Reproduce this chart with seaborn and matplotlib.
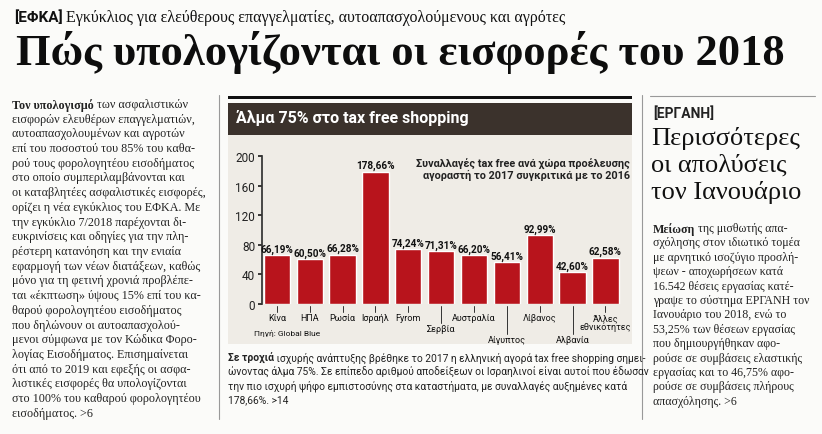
import numpy as np
import pandas as pd
import matplotlib
matplotlib.use('Agg')
import matplotlib.pyplot as plt
import matplotlib.transforms as mtrans
import seaborn as sns

sns.set_theme(style='white')
plt.rcParams['font.family'] = ['Liberation Serif', 'DejaVu Sans']

# data from the chart
countries = ['Κίνα', 'ΗΠΑ', 'Ρωσία', 'Ισραήλ', 'Fyrom', 'Σερβία', 'Αυστραλία',
             'Αίγυπτος', 'Λίβανος', 'Αλβανία', 'Άλλες\nεθνικότητες']
growth = [66.19, 60.50, 66.28, 178.66, 74.24, 71.31, 66.20, 56.41, 92.99, 42.60, 62.58]
label_level = [0, 0, 0, 0, 0, 1, 0, 2, 0, 2, 0]
yticks = [0, 40, 80, 120, 160, 200]

left_col = [
    ("Τον υπολογισμό", " των ασφαλιστικών"),
    ("", "εισφορών ελευθέρων επαγγελματιών,"),
    ("", "αυτοαπασχολουμένων και αγροτών"),
    ("", "επί του ποσοστού του 85% του καθα-"),
    ("", "ρού τους φορολογητέου εισοδήματος"),
    ("", "στο οποίο συμπεριλαμβάνονται και"),
    ("", "οι καταβλητέες ασφαλιστικές εισφορές,"),
    ("", "ορίζει η νέα εγκύκλιος του ΕΦΚΑ. Με"),
    ("", "την εγκύκλιο 7/2018 παρέχονται δι-"),
    ("", "ευκρινίσεις και οδηγίες για την πλη-"),
    ("", "ρέστερη κατανόηση και την ενιαία"),
    ("", "εφαρμογή των νέων διατάξεων, καθώς"),
    ("", "μόνο για τη φετινή χρονιά προβλέπε-"),
    ("", "ται «έκπτωση» ύψους 15% επί του κα-"),
    ("", "θαρού φορολογητέου εισοδήματος"),
    ("", "που δηλώνουν οι αυτοαπασχολού-"),
    ("", "μενοι σύμφωνα με τον Κώδικα Φορο-"),
    ("", "λογίας Εισοδήματος. Επισημαίνεται"),
    ("", "ότι από το 2019 και εφεξής οι ασφα-"),
    ("", "λιστικές εισφορές θα υπολογίζονται"),
    ("", "στο 100% του καθαρού φορολογητέου"),
    ("", "εισοδήματος. >6"),
]
right_col = [
    ("Μείωση", " της μισθωτής απα-"),
    ("", "σχόλησης στον ιδιωτικό τομέα"),
    ("", "με αρνητικό ισοζύγιο προσλή-"),
    ("", "ψεων - αποχωρήσεων κατά"),
    ("", "16.542 θέσεις εργασίας κατέ-"),
    ("", "γραψε το σύστημα ΕΡΓΑΝΗ τον"),
    ("", "Ιανουάριο του 2018, ενώ το"),
    ("", "53,25% των θέσεων εργασίας"),
    ("", "που δημιουργήθηκαν αφο-"),
    ("", "ρούσε σε συμβάσεις ελαστικής"),
    ("", "εργασίας και το 46,75% αφο-"),
    ("", "ρούσε σε συμβάσεις πλήρους"),
    ("", "απασχόλησης. >6"),
]
caption = [
    ("Σε τροχιά", " ισχυρής ανάπτυξης βρέθηκε το 2017 η ελληνική αγορά tax free shopping σημει-"),
    ("", "ώνοντας άλμα 75%. Σε επίπεδο αριθμού αποδείξεων οι Ισραηλινοί είναι αυτοί που έδωσαν"),
    ("", "την πιο ισχυρή ψήφο εμπιστοσύνης στα καταστήματα, με συναλλαγές αυξημένες κατά"),
    ("", "178,66%. >14"),
]

W, H = 822, 435
fig = plt.figure(figsize=(W / 100, H / 100), dpi=100, facecolor='#fbfbf9')


def fx(x):
    return x / W


def fy(y):
    return 1 - y / H


def txt(x, y, s, **kw):
    fig.text(fx(x), fy(y), s, va='top', **kw)


def para(x, y, lines, step, size, family, color='#222222'):
    r = fig.canvas.get_renderer()
    for i, (b, rest) in enumerate(lines):
        yy = y + i * step
        if b:
            t = fig.text(fx(x), fy(yy), b, va='top', fontsize=size, fontweight='bold',
                         family=family, color=color)
            bb = t.get_window_extent(r)
            fig.text(bb.x1 / W, fy(yy), rest, va='top', fontsize=size, family=family, color=color)
        else:
            fig.text(fx(x), fy(yy), rest, va='top', fontsize=size, family=family, color=color)


# headline
txt(14, 10, '[ΕΦΚΑ]', fontsize=11, fontweight='bold', family=['Roboto', 'DejaVu Sans'], color='#111')
txt(66, 10, 'Εγκύκλιος για ελεύθερους επαγγελματίες, αυτοαπασχολούμενους και αγρότες',
    fontsize=11.5, color='#111')
txt(16, 31, 'Πώς υπολογίζονται οι εισφορές του 2018', fontsize=32, fontweight='bold',
    color='#0d0d0d')

# side columns
para(12, 99, left_col, 14.7, 8.7, ['Liberation Serif'])
para(653, 223, right_col, 14.4, 8.6, ['Liberation Serif'])
txt(653, 106, '[ΕΡΓΑΝΗ]', fontsize=10, fontweight='bold', family=['Roboto', 'DejaVu Sans'], color='#222')
for i, s in enumerate(['Περισσότερες', 'οι απολύσεις', 'τον Ιανουάριο']):
    txt(651, 127 + i * 27, s, fontsize=19, color='#111')

# separators
fig.add_artist(plt.Line2D([fx(219), fx(219)], [fy(96), fy(420)], color='#999', lw=0.8))
fig.add_artist(plt.Line2D([fx(642), fx(642)], [fy(96), fy(420)], color='#999', lw=0.8))
fig.add_artist(plt.Line2D([fx(650), fx(815)], [fy(97), fy(97)], color='#999', lw=0.8))

# chart box
for rect in [plt.Rectangle((fx(228), fy(100)), fx(404), 3 / H, color='#111', lw=0),
             plt.Rectangle((fx(228), fy(136)), fx(404), 32 / H, color='#3b322c', lw=0),
             plt.Rectangle((fx(228), fy(345)), fx(404), 209 / H, color='#efece6', lw=0)]:
    rect.set_zorder(-5)
    fig.add_artist(rect)
txt(236, 110, 'Άλμα 75% στο tax free shopping', fontsize=11.5, fontweight='bold',
    family=['Roboto', 'DejaVu Sans'], color='white')

ax = fig.add_axes([fx(262), fy(305), fx(368), (305 - 157) / H])
ax.set_zorder(5)
ax.set_facecolor('none')
df = pd.DataFrame({'country': countries, 'growth': growth})
sns.barplot(data=df, x='country', y='growth', color='#b8141c', saturation=1, width=0.8, ax=ax)
ax.set_ylim(0, 200)
ax.set_yticks(yticks)
ax.set_xlim(-0.45, len(countries) - 0.25)
sns.despine(ax=ax, bottom=True)
ax.spines['left'].set_color('#333')
ax.tick_params(axis='y', left=True, length=3, labelsize=8.5, colors='#222', pad=2)
for lab in ax.get_yticklabels():
    lab.set_family(['Roboto', 'DejaVu Sans'])
ax.set_xticks([])
ax.set_xlabel('')
ax.set_ylabel('')
for i, v in enumerate(growth):
    ax.text(i, v + 2, f'{v:.2f}%'.replace('.', ','), ha='center', va='bottom', fontsize=7.2,
            fontweight='bold', family=['Roboto', 'DejaVu Sans'], color='#111')
tr = mtrans.blended_transform_factory(ax.transData, ax.transAxes)
for i, (c, lv) in enumerate(zip(countries, label_level)):
    ytxt = -0.06 - lv * 0.075
    ax.plot([i, i], [-0.015, ytxt + 0.005], transform=tr, color='#333', lw=0.7, clip_on=False)
    ax.text(i, ytxt, c, transform=tr, ha='center', va='top', fontsize=6.5, linespacing=0.9,
            family=['Roboto', 'DejaVu Sans'], color='#111')
ax.text(-0.7, -0.17, 'Πηγή: Global Blue', transform=tr, ha='left', va='top', fontsize=6,
        family=['Roboto', 'DejaVu Sans'], color='#111')
ax.text(1.0, 0.99, 'Συναλλαγές tax free ανά χώρα προέλευσης\nαγοραστή το 2017 συγκριτικά με το 2016',
        transform=ax.transAxes, ha='right', va='top', fontsize=7.8, linespacing=1.1,
        fontweight='bold', family=['Roboto', 'DejaVu Sans'], color='#222')

para(228, 353, caption, 14, 7.4, ['Roboto', 'DejaVu Sans'])

fig.savefig('out.png', dpi=100, facecolor=fig.get_facecolor())
